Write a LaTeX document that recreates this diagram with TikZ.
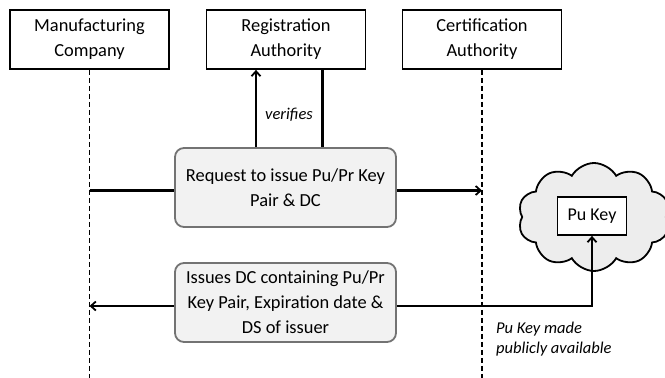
\documentclass[tikz,border=0pt]{standalone}
\usepackage{fontspec}
\setmainfont{Carlito}
\usetikzlibrary{shapes.symbols,arrows.meta}
\begin{document}
\begin{tikzpicture}[x=1pt,y=-1pt,
  actor/.style={draw=black,line width=1.8pt,fill=white,minimum width=159pt,minimum height=59pt,
    align=center,inner sep=0pt,font=\fontsize{18.4}{25}\selectfont},
  msg/.style={draw=black!55,line width=1.8pt,fill=black!5,rounded corners=9pt,minimum width=221pt,
    minimum height=79pt,align=center,inner sep=0pt,font=\fontsize{18.4}{25}\selectfont},
  life/.style={line width=1.7pt,dash pattern=on 5pt off 3pt},
  conn/.style={line width=2.3pt},
  arr/.style={conn,-{Straight Barb[length=5pt,width=9pt,line width=1.8pt]}},
  lbl/.style={font=\fontsize{16.5}{19.5}\selectfont\itshape,inner sep=0pt}]
\useasboundingbox (0,0) rectangle (665,378);
% lifelines
\node[actor] (mc) at (89.5,39.5) {Manufacturing\\Company};
\node[actor] (ra) at (286,39.5) {Registration\\Authority};
\node[actor] (ca) at (482,39.5) {Certification\\Authority};
\coordinate (mcEnd) at (89.5,378);
\coordinate (caEnd) at (482,378);
\draw[life] (mc.south) -- (mcEnd);
\draw[life] (ca.south) -- (caEnd);
% cloud
\node[cloud,draw=black,line width=1.8pt,fill=black!7,cloud puffs=10,cloud puff arc=120,
  cloud ignores aspect,minimum width=152pt,minimum height=108pt,inner sep=0pt] (cloud) at (594,217) {};
\node[draw=black,line width=1.8pt,fill=white,minimum width=69pt,minimum height=38pt,inner sep=0pt,
  font=\fontsize{18}{22}\selectfont] (pk) at (592,216) {Pu Key};
% messages
\node[msg] (req) at (285.5,187.5) {Request to issue Pu/Pr Key\\Pair \& DC};
\node[msg] (iss) at (285.5,302.5) {Issues DC containing Pu/Pr\\Key Pair, Expiration date \&\\DS of issuer};
\coordinate (reqL) at (89.5,190.5);
\coordinate (reqR) at (482,190.5);
\draw[conn] (reqL) -- (reqL -| req.west);
\draw[arr] (reqR -| req.east) -- (reqR);
\coordinate (v1) at (256,0);
\coordinate (v2) at (322.5,0);
\draw[arr] (v1 |- req.north) -- (v1 |- ra.south);
\draw[conn] (v2 |- req.north) -- (v2 |- ra.south);
\node[lbl] (ver) at (289,115) {verifies};
\coordinate (issL) at (89.5,306);
\coordinate (issR) at (592,306);
\draw[arr] (issL -| iss.west) -- (issL);
\draw[arr] (issR -| iss.east) -- (issR) -- (pk.south);
\node[lbl,anchor=west,align=left] (pkm) at (496,339) {Pu Key made\\publicly available};
\end{tikzpicture}
\end{document}
